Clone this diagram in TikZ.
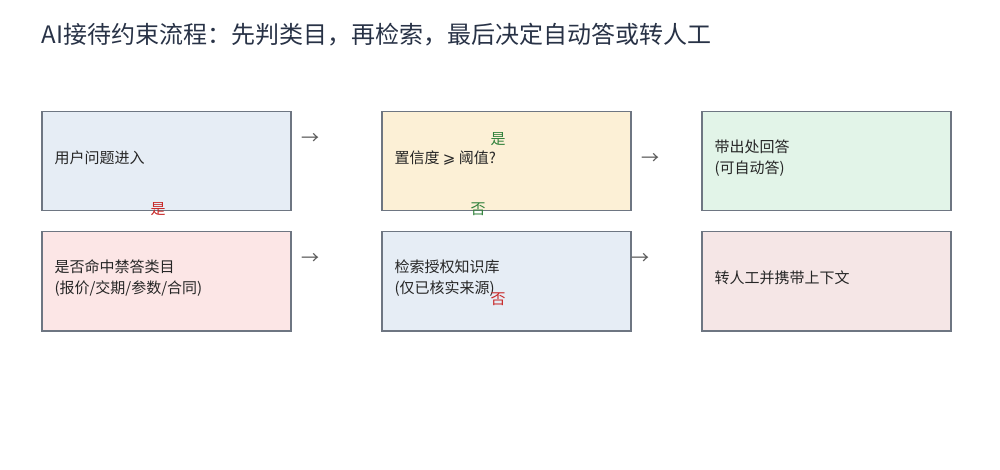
\documentclass[tikz,border=0pt]{standalone}
\usepackage{fontspec}
\setmainfont{Noto Sans CJK SC}
\newfontfamily\symfont{DejaVu Sans}
\begin{document}
\begin{tikzpicture}[x=1pt,y=-1pt,
  box/.style={draw={rgb,255:red,110;green,118;blue,130},line width=1.5pt,minimum width=249pt,minimum height=99pt,anchor=north west,inner sep=0pt},
  txt/.style={anchor=west,align=left,font=\fontsize{15}{21}\selectfont,text=black!85},
  arr/.style={font=\fontsize{18}{18}\selectfont,text=black!65},
  lab/.style={font=\fontsize{15}{15}\selectfont}]
\useasboundingbox (0,0) rectangle (1000,470);
\node[anchor=west,font=\fontsize{24}{24}\selectfont,text={rgb,255:red,40;green,50;blue,70}] (title) at (38,35) {AI接待约束流程：先判类目，再检索，最后决定自动答或转人工};
\node[box,fill={rgb,255:red,230;green,237;blue,245}] (b1) at (41,111) {};
\node[box,fill={rgb,255:red,252;green,240;blue,214}] (b2) at (381,111) {};
\node[box,fill={rgb,255:red,226;green,244;blue,232}] (b3) at (701,111) {};
\node[box,fill={rgb,255:red,252;green,230;blue,230}] (b4) at (41,231) {};
\node[box,fill={rgb,255:red,230;green,237;blue,245}] (b5) at (381,231) {};
\node[box,fill={rgb,255:red,245;green,230;blue,230}] (b6) at (701,231) {};
\node[txt] (t1) at (51,158) {用户问题进入};
\node[txt] (t2) at (391,158) {置信度 {\symfont ⩾} 阈值?};
\node[txt] (t3) at (711,158) {带出处回答\\(可自动答)};
\node[txt] (t4) at (51,278) {是否命中禁答类目\\(报价/交期/参数/合同)};
\node[txt] (t5) at (391,278) {检索授权知识库\\(仅已核实来源)};
\node[txt] (t6) at (711,278) {转人工并携带上下文};
\node[arr] (a1) at (310,139) {→};
\node[arr] (a2) at (650,159) {→};
\node[arr] (a3) at (310,259) {→};
\node[arr] (a4) at (640,259) {→};
\node[lab,text={rgb,255:red,200;green,40;blue,40}] (l1) at (158,209) {是};
\node[lab,text={rgb,255:red,50;green,130;blue,60}] (l2) at (498,139) {是};
\node[lab,text={rgb,255:red,50;green,130;blue,60}] (l3) at (478,209) {否};
\node[lab,text={rgb,255:red,200;green,40;blue,40}] (l4) at (498,299) {否};
\end{tikzpicture}
\end{document}
